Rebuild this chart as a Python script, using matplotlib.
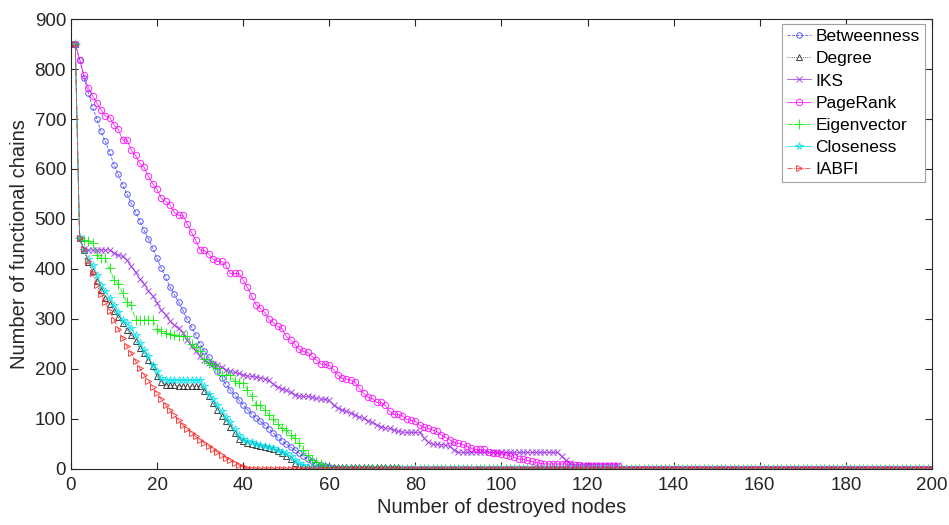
import matplotlib
matplotlib.use("Agg")
import matplotlib.pyplot as plt

N_NODES = 200

betweenness = [850, 819, 783, 753, 724, 700, 675, 655, 633, 608,
               589, 568, 550, 531, 514, 496, 477, 460, 441, 421,
               401, 383, 364, 349, 334, 317, 299, 284, 268, 250,
               235, 223, 210, 195, 182, 170, 158, 148, 138, 128,
               118, 110, 102, 95, 88, 80, 72, 63, 56, 50,
               44, 38, 32, 25, 20, 15, 10, 7, 5, 3, 1]

degree = [850, 462, 437, 413, 395, 375, 358, 341, 330, 315,
          303, 291, 278, 268, 255, 241, 231, 218, 205, 185,
          173, 168, 167, 167, 166, 166, 166, 166, 165, 165,
          155, 145, 132, 118, 105, 95, 84, 72, 60, 55,
          52, 50, 48, 46, 44, 42, 40, 36, 32, 26,
          20, 12, 6, 4, 3, 3, 3, 3, 3, 3,
          3, 3, 3, 3, 3, 3, 3, 3, 3, 3,
          3, 3, 3, 3, 3, 3]

iks = [850, 462, 440, 438, 438, 438, 438, 438, 438, 431,
       428, 425, 418, 405, 393, 380, 370, 356, 346, 332,
       318, 308, 296, 288, 281, 272, 258, 245, 236, 225,
       218, 212, 210, 207, 203, 198, 195, 193, 191, 188,
       186, 185, 184, 182, 180, 177, 170, 163, 160, 158,
       153, 148, 146, 145, 145, 143, 141, 140, 139, 137,
       127, 122, 118, 115, 112, 108, 104, 101, 96, 93,
       88, 84, 82, 81, 78, 75, 74, 73, 73, 73,
       73, 62, 53, 50, 49, 48, 48, 45, 38, 33,
       33, 33, 33, 33, 33, 33, 33, 33, 33, 33,
       33, 33, 33, 33, 33, 33, 33, 33, 33, 33,
       33, 33, 33, 25, 17, 11, 8, 8, 8, 8,
       8, 8, 8, 8, 8, 8, 8]

pagerank = [850, 819, 788, 763, 747, 732, 718, 706, 703, 688,
            679, 658, 658, 638, 627, 611, 603, 585, 570, 559,
            541, 535, 528, 513, 507, 507, 490, 473, 457, 438,
            437, 430, 420, 415, 415, 407, 391, 391, 391, 378,
            363, 345, 328, 321, 313, 299, 293, 285, 281, 265,
            258, 249, 239, 235, 233, 225, 218, 210, 209, 207,
            199, 188, 181, 180, 178, 173, 161, 151, 143, 141,
            133, 133, 127, 116, 109, 109, 106, 99, 98, 95,
            88, 83, 81, 78, 75, 68, 63, 58, 53, 51,
            49, 45, 41, 39, 39, 39, 34, 32, 31, 30,
            28, 26, 23, 20, 19, 17, 15, 13, 11, 10,
            10, 10, 10, 10, 10, 9, 8, 7, 6, 6,
            6, 5, 5, 5, 5, 5, 5]

eigenvector = [850, 462, 458, 456, 452, 427, 421, 421, 401, 378,
               370, 351, 333, 327, 298, 298, 298, 298, 298, 279,
               275, 272, 270, 267, 265, 265, 265, 249, 243, 235,
               220, 212, 208, 201, 188, 188, 188, 175, 171, 171,
               158, 145, 128, 128, 118, 108, 100, 90, 81, 78,
               68, 61, 51, 38, 28, 18, 14, 10, 5, 2]

closeness = [850, 462, 437, 420, 408, 388, 368, 355, 341, 328,
             313, 298, 291, 281, 268, 251, 238, 225, 208, 195,
             181, 178, 177, 177, 177, 177, 177, 177, 177, 177,
             165, 150, 140, 128, 116, 104, 93, 80, 68, 60,
             56, 53, 50, 48, 46, 44, 42, 38, 34, 31,
             25, 18, 12, 7, 4, 2, 1]

iabfi = [850, 462, 440, 415, 392, 368, 350, 333, 316, 298,
         280, 262, 246, 231, 216, 201, 188, 176, 163, 151,
         139, 128, 117, 107, 97, 88, 80, 72, 65, 58,
         52, 46, 40, 34, 28, 22, 17, 12, 8, 4, 1]

series_names = ["Betweenness", "Degree", "IKS", "PageRank",
                "Eigenvector", "Closeness", "IABFI"]
series_values = [betweenness, degree, iks, pagerank,
                 eigenvector, closeness, iabfi]

styles = [
    dict(color="#3b3bff", ls="--", marker="o", ms=4.0),
    dict(color="#222222", ls=":", marker="^", ms=4.2),
    dict(color="#9a2ee8", ls="-", marker="x", ms=3.8),
    dict(color="#ff00ff", ls="-", marker="o", ms=4.6),
    dict(color="#00ee00", ls="-.", marker="+", ms=6.5),
    dict(color="#00e5ee", ls="-", marker="*", ms=5.5),
    dict(color="#ff2020", ls="-.", marker=">", ms=4.2),
]

plt.rcParams["font.family"] = ["Liberation Sans", "DejaVu Sans"]

fig = plt.figure(figsize=(9.49, 5.25), dpi=100)
ax = fig.add_axes([0.0748, 0.1067, 0.9072, 0.8571])

xs = list(range(1, N_NODES + 1))
for name, vals, st in zip(series_names, series_values, styles):
    full = list(vals) + [0] * (N_NODES - len(vals))
    ax.plot(xs, full, label=name, color=st["color"], linestyle=st["ls"],
            linewidth=0.6, marker=st["marker"], markersize=st["ms"],
            markerfacecolor="none", markeredgewidth=0.7, alpha=0.85)

ax.set_xlim(0, 200)
ax.set_ylim(0, 900)
ax.set_xticks(range(0, 201, 20))
ax.set_yticks(range(0, 901, 100))
ax.tick_params(direction="in", top=True, right=True, labelsize=13.5,
               length=5, width=0.8, colors="#262626")
ax.tick_params(axis="x", pad=6)
for sp in ax.spines.values():
    sp.set_color("#262626")
    sp.set_linewidth(0.8)

ax.set_xlabel("Number of destroyed nodes", fontsize=14.5, color="#262626",
              labelpad=3)
ax.set_ylabel("Number of functional chains", fontsize=14.5, color="#262626",
              labelpad=4)

leg = ax.legend(loc="upper right", fontsize=12.5, numpoints=1,
                handlelength=1.4, handletextpad=0.25, labelspacing=0.4,
                borderpad=0.3, borderaxespad=0.0, fancybox=False,
                framealpha=1, bbox_to_anchor=(0.992, 0.989))
leg.get_frame().set_edgecolor("#a0a0a0")
leg.get_frame().set_linewidth(0.8)

fig.savefig("out.png", dpi=100)
